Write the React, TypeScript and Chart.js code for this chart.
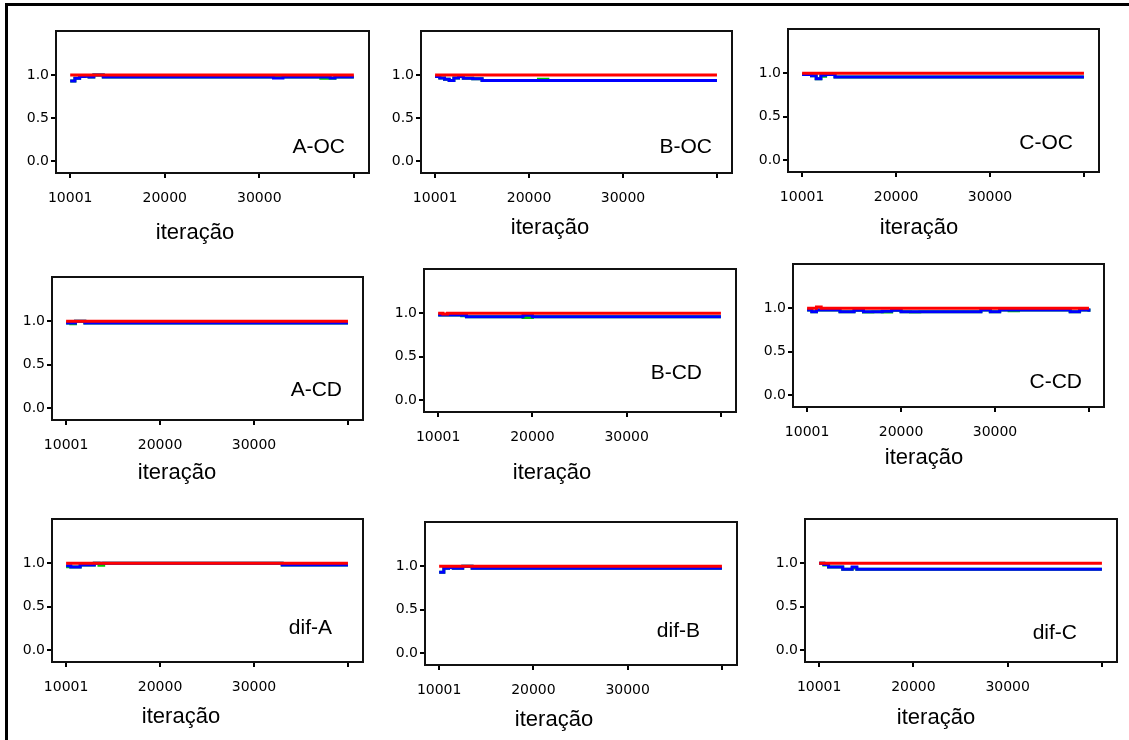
import React, { useEffect, useRef } from "react";
import { Chart, registerables } from "chart.js";

Chart.register(...registerables);

// ---- data ----
const iterations = [10001, 10500, 11000, 11500, 12000, 12500, 13000, 13500, 14000, 15000, 16000, 17000, 18000, 19000, 20000, 21000, 22000, 26000, 28500, 29500, 30500, 31500, 32500, 33000, 36500, 37500, 38000, 39000, 40000];
const xTickValues = [10001, 20000, 30000, 40000];
const xTickLabels = ["10001", "20000", "30000", ""];
const yTickValues = [0, 0.5, 1.0];
const yTickLabels = ["0.0", "0.5", "1.0"];
const xTitle = "iteração";

const aocRed = [1, 1, 1, 1, 1, 1, 1, 1, 1, 1, 1, 1, 1, 1, 1, 1, 1, 1, 1, 1, 1, 1, 1, 1, 1, 1, 1, 1, 1];
const aocBlue = [0.93, 0.96, 0.98, 0.985, 0.975, 1, 1, 0.975, 0.975, 0.975, 0.975, 0.975, 0.975, 0.975, 0.975, 0.975, 0.975, 0.975, 0.975, 0.975, 0.975, 0.965, 0.975, 0.975, 0.975, 0.965, 0.975, 0.975, 0.975];
const aocGreen = [0.93, 0.96, 0.98, 0.985, 0.975, 1, 1, 0.975, 0.975, 0.975, 0.975, 0.975, 0.975, 0.975, 0.975, 0.975, 0.975, 0.975, 0.975, 0.975, 0.975, 0.975, 0.975, 0.975, 0.96, 0.96, 0.975, 0.975, 0.975];

const bocRed = [1, 1, 1, 1, 1, 1, 1, 1, 1, 1, 1, 1, 1, 1, 1, 1, 1, 1, 1, 1, 1, 1, 1, 1, 1, 1, 1, 1, 1];
const bocBlue = [0.98, 0.965, 0.95, 0.935, 0.965, 0.98, 0.96, 0.96, 0.955, 0.935, 0.935, 0.935, 0.935, 0.935, 0.935, 0.935, 0.935, 0.935, 0.935, 0.935, 0.935, 0.935, 0.935, 0.935, 0.935, 0.935, 0.935, 0.935, 0.935];
const bocGreen = [0.98, 0.965, 0.95, 0.935, 0.965, 0.98, 0.96, 0.96, 0.955, 0.935, 0.935, 0.935, 0.935, 0.935, 0.935, 0.95, 0.935, 0.935, 0.935, 0.935, 0.935, 0.935, 0.935, 0.935, 0.935, 0.935, 0.935, 0.935, 0.935];

const cocRed = [1, 1, 1, 1, 1, 1, 1, 1, 1, 1, 1, 1, 1, 1, 1, 1, 1, 1, 1, 1, 1, 1, 1, 1, 1, 1, 1, 1, 1];
const cocBlue = [0.985, 0.985, 0.97, 0.935, 0.975, 0.985, 0.985, 0.955, 0.955, 0.955, 0.955, 0.955, 0.955, 0.955, 0.955, 0.955, 0.955, 0.955, 0.955, 0.955, 0.955, 0.955, 0.955, 0.955, 0.955, 0.955, 0.955, 0.955, 0.955];
const cocGreen = [0.985, 0.985, 0.97, 0.935, 0.965, 0.985, 0.985, 0.955, 0.955, 0.955, 0.955, 0.955, 0.955, 0.955, 0.955, 0.955, 0.955, 0.955, 0.955, 0.955, 0.955, 0.955, 0.955, 0.955, 0.955, 0.955, 0.955, 0.955, 0.955];

const acdRed = [1, 1, 1, 1, 1, 1, 1, 1, 1, 1, 1, 1, 1, 1, 1, 1, 1, 1, 1, 1, 1, 1, 1, 1, 1, 1, 1, 1, 1];
const acdBlue = [0.98, 0.98, 1, 1, 0.98, 0.98, 0.98, 0.98, 0.98, 0.98, 0.98, 0.98, 0.98, 0.98, 0.98, 0.98, 0.98, 0.98, 0.98, 0.98, 0.98, 0.98, 0.98, 0.98, 0.98, 0.98, 0.98, 0.98, 0.98];
const acdGreen = [0.98, 0.97, 1, 1, 0.98, 0.98, 0.98, 0.98, 0.98, 0.98, 0.98, 0.98, 0.98, 0.98, 0.98, 0.98, 0.98, 0.98, 0.98, 0.98, 0.98, 0.98, 0.98, 0.98, 0.98, 0.98, 0.98, 0.98, 0.98];

const bcdRed = [1, 0.99, 1, 1, 1, 1, 1, 1, 1, 1, 1, 1, 1, 1, 1, 1, 1, 1, 1, 1, 1, 1, 1, 1, 1, 1, 1, 1, 1];
const bcdBlue = [0.98, 0.98, 0.98, 0.98, 0.98, 0.975, 0.96, 0.96, 0.96, 0.96, 0.96, 0.96, 0.96, 0.975, 0.96, 0.96, 0.96, 0.96, 0.96, 0.96, 0.96, 0.96, 0.96, 0.96, 0.96, 0.96, 0.96, 0.96, 0.96];
const bcdGreen = [0.98, 0.98, 0.98, 0.98, 0.98, 0.97, 0.96, 0.96, 0.96, 0.96, 0.96, 0.96, 0.96, 0.95, 0.96, 0.96, 0.96, 0.96, 0.96, 0.96, 0.96, 0.96, 0.96, 0.96, 0.96, 0.96, 0.96, 0.96, 0.96];

const ccdRed = [1, 1, 1.015, 1, 1, 1, 1, 1, 1, 1, 1, 1, 1, 1, 1, 1, 1, 1, 1, 1, 1, 1, 1, 1, 1, 1, 1, 1, 1];
const ccdBlue = [0.98, 0.96, 0.98, 0.98, 0.98, 0.98, 0.98, 0.96, 0.96, 0.975, 0.96, 0.96, 0.965, 0.975, 0.96, 0.96, 0.96, 0.96, 0.98, 0.96, 0.98, 0.98, 0.98, 0.98, 0.98, 0.98, 0.96, 0.98, 0.96];
const ccdGreen = [0.98, 0.96, 0.98, 0.98, 0.98, 0.98, 0.98, 0.96, 0.96, 0.975, 0.955, 0.96, 0.955, 0.975, 0.96, 0.955, 0.96, 0.96, 0.98, 0.96, 0.98, 0.97, 0.98, 0.98, 0.98, 0.98, 0.96, 0.98, 0.96];

const difaRed = [1, 1, 1, 1, 1, 1, 1, 1, 1, 1, 1, 1, 1, 1, 1, 1, 1, 1, 1, 1, 1, 1, 1, 1, 1, 1, 1, 1, 1];
const difaBlue = [0.97, 0.955, 0.955, 0.98, 0.98, 0.98, 1, 1, 1, 1, 1, 1, 1, 1, 1, 1, 1, 1, 1, 1, 1, 1, 1, 0.98, 0.98, 0.98, 0.98, 0.98, 0.98];
const difaGreen = [0.96, 0.955, 0.955, 0.98, 0.98, 0.98, 1, 0.975, 1, 1, 1, 1, 1, 1, 1, 1, 1, 1, 1, 1, 1, 1, 1, 0.98, 0.98, 0.98, 0.98, 0.98, 0.98];

const difbRed = [1, 1, 1, 1, 1, 1, 1, 1, 1, 1, 1, 1, 1, 1, 1, 1, 1, 1, 1, 1, 1, 1, 1, 1, 1, 1, 1, 1, 1];
const difbBlue = [0.93, 0.975, 0.985, 0.975, 0.975, 1, 1, 0.975, 0.975, 0.975, 0.975, 0.975, 0.975, 0.975, 0.975, 0.975, 0.975, 0.975, 0.975, 0.975, 0.975, 0.975, 0.975, 0.975, 0.975, 0.975, 0.975, 0.975, 0.975];
const difbGreen = [0.93, 0.975, 0.985, 0.975, 0.975, 1, 1, 0.975, 0.975, 0.975, 0.975, 0.975, 0.975, 0.975, 0.975, 0.975, 0.975, 0.975, 0.975, 0.975, 0.975, 0.975, 0.975, 0.975, 0.975, 0.975, 0.975, 0.975, 0.975];

const difcRed = [1, 1, 1, 1, 1, 1, 1, 1, 1, 1, 1, 1, 1, 1, 1, 1, 1, 1, 1, 1, 1, 1, 1, 1, 1, 1, 1, 1, 1];
const difcBlue = [1, 0.985, 0.955, 0.955, 0.955, 0.93, 0.93, 0.955, 0.93, 0.93, 0.93, 0.93, 0.93, 0.93, 0.93, 0.93, 0.93, 0.93, 0.93, 0.93, 0.93, 0.93, 0.93, 0.93, 0.93, 0.93, 0.93, 0.93, 0.93];
const difcGreen = [1, 0.98, 0.955, 0.955, 0.955, 0.93, 0.93, 0.945, 0.93, 0.93, 0.93, 0.93, 0.93, 0.93, 0.93, 0.93, 0.93, 0.93, 0.93, 0.93, 0.93, 0.93, 0.93, 0.93, 0.93, 0.93, 0.93, 0.93, 0.93];

// ---- layout (page pixel positions of each plot box and its texts) ----
const PAD_TOP = 20;
const PAD_RIGHT = 12;
const AXIS_W = 56;
const AXIS_H = 85;

type Panel = {
  label: string;
  red: number[];
  green: number[];
  blue: number[];
  left: number;
  top: number;
  right: number;
  bottom: number;
  titleX: number;
  titleY: number;
  labelRight: number;
  labelY: number;
};

const panels: Panel[] = [
  { label: "A-OC", red: aocRed, green: aocGreen, blue: aocBlue, left: 56, top: 31, right: 369, bottom: 173, titleX: 195, titleY: 233, labelRight: 345, labelY: 147 },
  { label: "B-OC", red: bocRed, green: bocGreen, blue: bocBlue, left: 421, top: 31, right: 732, bottom: 173, titleX: 550, titleY: 228, labelRight: 712, labelY: 147 },
  { label: "C-OC", red: cocRed, green: cocGreen, blue: cocBlue, left: 788, top: 29, right: 1099, bottom: 172, titleX: 919, titleY: 228, labelRight: 1073, labelY: 143 },
  { label: "A-CD", red: acdRed, green: acdGreen, blue: acdBlue, left: 52, top: 277, right: 363, bottom: 420, titleX: 177, titleY: 473, labelRight: 342, labelY: 390 },
  { label: "B-CD", red: bcdRed, green: bcdGreen, blue: bcdBlue, left: 424, top: 269, right: 736, bottom: 412, titleX: 552, titleY: 473, labelRight: 702, labelY: 373 },
  { label: "C-CD", red: ccdRed, green: ccdGreen, blue: ccdBlue, left: 793, top: 264, right: 1104, bottom: 407, titleX: 924, titleY: 458, labelRight: 1082, labelY: 382 },
  { label: "dif-A", red: difaRed, green: difaGreen, blue: difaBlue, left: 52, top: 519, right: 363, bottom: 662, titleX: 181, titleY: 717, labelRight: 332, labelY: 628 },
  { label: "dif-B", red: difbRed, green: difbGreen, blue: difbBlue, left: 425, top: 522, right: 737, bottom: 665, titleX: 554, titleY: 720, labelRight: 700, labelY: 631 },
  { label: "dif-C", red: difcRed, green: difcGreen, blue: difcBlue, left: 805, top: 519, right: 1117, bottom: 662, titleX: 936, titleY: 718, labelRight: 1077, labelY: 633 },
];

const textPlugin = {
  id: "panelText",
  afterDraw(chart: any, _args: any, opts: any) {
    const { ctx, chartArea: a } = chart;
    ctx.save();
    ctx.strokeStyle = "#111";
    ctx.lineWidth = 2;
    ctx.strokeRect(a.left, a.top, a.right - a.left, a.bottom - a.top);
    ctx.fillStyle = "#000";
    ctx.textBaseline = "middle";
    ctx.font = '22px "Liberation Sans", Arial, sans-serif';
    ctx.textAlign = "center";
    ctx.fillText(xTitle, a.left + opts.titleDx, a.bottom + opts.titleDy);
    ctx.font = '21px "Liberation Sans", Arial, sans-serif';
    ctx.textAlign = "right";
    ctx.fillText(opts.label, a.right - opts.labelDx, a.bottom - opts.labelDy);
    ctx.restore();
  },
};

const tickFont = { family: '"DejaVu Sans", sans-serif', size: 14 };

function PanelChart({ p }: { p: Panel }) {
  const ref = useRef<HTMLCanvasElement | null>(null);
  const boxW = p.right - p.left;
  const boxH = p.bottom - p.top;
  const cw = AXIS_W + boxW + PAD_RIGHT;
  const ch = PAD_TOP + boxH + AXIS_H;

  useEffect(() => {
    if (!ref.current) return;
    const mk = (arr: number[]) => iterations.map((x, i) => ({ x, y: arr[i] }));
    const line = (data: any, color: string) => ({
      data,
      borderColor: color,
      backgroundColor: color,
      borderWidth: 3,
      pointRadius: 0,
      stepped: true,
      tension: 0,
      fill: false,
    });
    const chart = new Chart(ref.current, {
      type: "line",
      data: {
        datasets: [
          line(mk(p.red), "#ff0000"),
          line(mk(p.blue), "#0000ff"),
          line(mk(p.green), "#00c800"),
        ],
      },
      options: {
        animation: false,
        responsive: false,
        maintainAspectRatio: false,
        layout: { padding: { top: PAD_TOP, right: PAD_RIGHT, left: 0, bottom: 0 } },
        plugins: {
          legend: { display: false },
          tooltip: { enabled: false },
          // @ts-ignore
          panelText: {
            label: p.label,
            titleDx: p.titleX - p.left,
            titleDy: p.titleY - p.bottom,
            labelDx: p.right - p.labelRight,
            labelDy: p.bottom - p.labelY,
          },
        },
        scales: {
          x: {
            type: "linear",
            min: 8500,
            max: 41600,
            afterBuildTicks: (s: any) => {
              s.ticks = xTickValues.map((v) => ({ value: v }));
            },
            afterFit: (s: any) => {
              s.height = AXIS_H;
            },
            ticks: {
              autoSkip: false,
              maxRotation: 0,
              padding: 12,
              color: "#000",
              font: tickFont,
              callback: (_v: any, i: number) => xTickLabels[i],
            },
            grid: { drawOnChartArea: false, drawTicks: true, tickLength: 5, color: "#000", lineWidth: 2 },
            border: { display: false },
          },
          y: {
            type: "linear",
            min: -0.14,
            max: 1.51,
            afterBuildTicks: (s: any) => {
              s.ticks = yTickValues.map((v) => ({ value: v }));
            },
            afterFit: (s: any) => {
              s.width = AXIS_W;
            },
            ticks: {
              autoSkip: false,
              padding: 2,
              color: "#000",
              font: tickFont,
              callback: (_v: any, i: number) => yTickLabels[i],
            },
            grid: { drawOnChartArea: false, drawTicks: true, tickLength: 5, color: "#000", lineWidth: 2 },
            border: { display: false },
          },
        },
      },
      plugins: [textPlugin],
    } as any);
    return () => chart.destroy();
  }, [p]);

  return (
    <canvas
      ref={ref}
      width={cw}
      height={ch}
      style={{ position: "absolute", left: p.left - AXIS_W, top: p.top - PAD_TOP, width: cw, height: ch }}
    />
  );
}

export default function App() {
  return (
    <div>
      <div
        style={{
          position: "absolute",
          left: 5,
          top: 3,
          width: 1124,
          height: 737,
          boxSizing: "border-box",
          borderTop: "3px solid #000",
          borderLeft: "3px solid #000",
        }}
      />
      {panels.map((p) => (
        <PanelChart key={p.label} p={p} />
      ))}
    </div>
  );
}
